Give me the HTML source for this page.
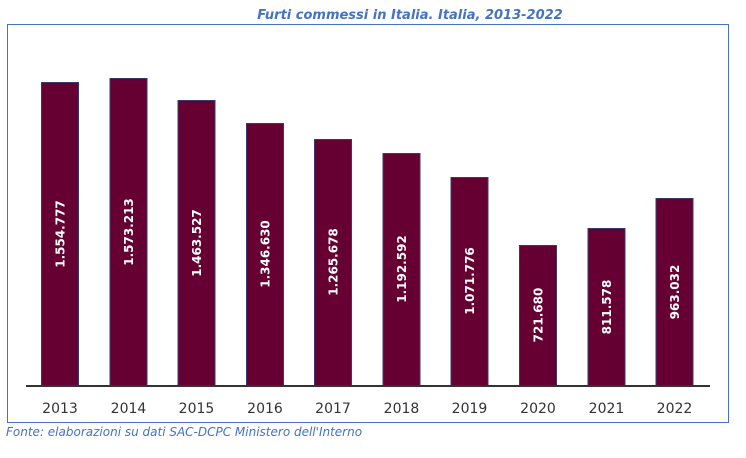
<!DOCTYPE html>
<html><head><style>body{margin:0;background:#fff}svg{display:block}</style></head><body>
<svg width="746" height="458" xmlns="http://www.w3.org/2000/svg" font-family="'DejaVu Sans','Liberation Sans',sans-serif">
<text x="410" y="19" text-anchor="middle" font-size="13" font-style="italic" font-weight="bold" fill="#4472C4">Furti commessi in Italia. Italia, 2013-2022</text>
<rect x="7.5" y="24.5" width="721" height="398" fill="none" stroke="#4472C4" stroke-width="1"/>
<g fill="#660033" stroke="#3a3a6a" stroke-width="1">
<rect x="41.5" y="82.5" width="37" height="303"/>
<rect x="110" y="78.5" width="37" height="307"/>
<rect x="178" y="100.5" width="37" height="285"/>
<rect x="246.5" y="123.5" width="37" height="262"/>
<rect x="314.5" y="139.5" width="37" height="246"/>
<rect x="383" y="153.5" width="37" height="232"/>
<rect x="451" y="177.5" width="37" height="208"/>
<rect x="519.5" y="245.5" width="37" height="140"/>
<rect x="588" y="228.5" width="37" height="157"/>
<rect x="656" y="198.5" width="37" height="187"/>
</g>
<line x1="26" y1="386" x2="710" y2="386" stroke="#333" stroke-width="2"/>
<g fill="#fff" font-size="12" font-weight="bold" text-anchor="middle">
<text transform="translate(64.5,234) rotate(-90)">1.554.777</text>
<text transform="translate(133,232) rotate(-90)">1.573.213</text>
<text transform="translate(201,243) rotate(-90)">1.463.527</text>
<text transform="translate(269.5,254) rotate(-90)">1.346.630</text>
<text transform="translate(337.5,262) rotate(-90)">1.265.678</text>
<text transform="translate(406,269) rotate(-90)">1.192.592</text>
<text transform="translate(474,281) rotate(-90)">1.071.776</text>
<text transform="translate(542.5,315) rotate(-90)">721.680</text>
<text transform="translate(611,307) rotate(-90)">811.578</text>
<text transform="translate(679,292) rotate(-90)">963.032</text>
</g>
<g fill="#333" font-size="14" text-anchor="middle">
<text x="60" y="413">2013</text><text x="128.5" y="413">2014</text><text x="196.5" y="413">2015</text><text x="265" y="413">2016</text><text x="333" y="413">2017</text><text x="401.5" y="413">2018</text><text x="469.5" y="413">2019</text><text x="538" y="413">2020</text><text x="606.5" y="413">2021</text><text x="674.5" y="413">2022</text>
</g>
<text x="6" y="436" font-size="12" font-style="italic" fill="#4472C4">Fonte: elaborazioni su dati SAC-DCPC Ministero dell'Interno</text>
</svg>
</body></html>
